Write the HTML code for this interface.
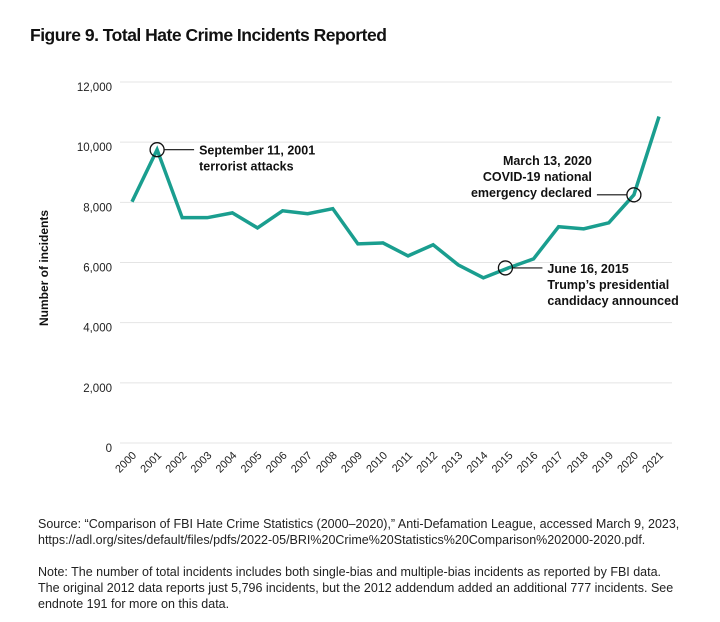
<!DOCTYPE html>
<html><head><meta charset="utf-8">
<style>
body{margin:0;background:#fff;font-family:"Liberation Sans",sans-serif;}
svg text{font-family:"Liberation Sans",sans-serif;}
.note{position:absolute;left:38px;font-size:12.5px;color:#222;line-height:16px;width:670px;}
</style></head>
<body>
<div style="position:relative;width:720px;height:622px;overflow:hidden">
<div style="position:absolute;left:30px;top:25px;font-size:17.5px;font-weight:bold;color:#111;letter-spacing:-0.5px">Figure 9. Total Hate Crime Incidents Reported</div>
<svg id="chart" width="720" height="500" style="position:absolute;left:0;top:0"></svg>
<div class="note" style="top:516px">Source: “Comparison of FBI Hate Crime Statistics (2000–2020),” Anti-Defamation League, accessed March 9, 2023,<br>https://adl.org/sites/default/files/pdfs/2022-05/BRI%20Crime%20Statistics%20Comparison%202000-2020.pdf.</div>
<div class="note" style="top:564px">Note: The number of total incidents includes both single-bias and multiple-bias incidents as reported by FBI data.<br>The original 2012 data reports just 5,796 incidents, but the 2012 addendum added an additional 777 incidents. See<br>endnote 191 for more on this data.</div>
</div>
<script>
const years=[2000,2001,2002,2003,2004,2005,2006,2007,2008,2009,2010,2011,2012,2013,2014,2015,2016,2017,2018,2019,2020,2021];
const incidents=[8020,9750,7490,7490,7650,7150,7720,7620,7790,6620,6650,6220,6590,5920,5490,5820,6120,7190,7120,7320,8250,10850];
const yTicks=[0,2000,4000,6000,8000,10000,12000];
const yTickLabels=["0","2,000","4,000","6,000","8,000","10,000","12,000"];
const annotations=[
 {year:2001,value:9750,lines:["September 11, 2001","terrorist attacks"],side:"right"},
 {year:2015,value:5820,lines:["June 16, 2015","Trump’s presidential","candidacy announced"],side:"right"},
 {year:2020,value:8250,lines:["March 13, 2020","COVID-19 national","emergency declared"],side:"left"}
];
const NS="http://www.w3.org/2000/svg";
const svg=document.getElementById('chart');
const x0=132,x1=659,yBase=443,yTop=82;
function xs(i){return x0+(x1-x0)*i/(years.length-1);}
function ys(v){return yBase-(yBase-yTop)*v/12000;}
function mk(t,a){const e=document.createElementNS(NS,t);for(const k in a)e.setAttribute(k,a[k]);svg.appendChild(e);return e;}
yTicks.forEach((t,i)=>{
 const g=mk('line',{x1:120,x2:672,y1:ys(t),y2:ys(t),stroke:'#e4e4e4','stroke-width':1});
 
 
 const tx=mk('text',{x:112,y:ys(t)+9,'text-anchor':'end','font-size':11.5,fill:'#222'});
 tx.textContent=yTickLabels[i];
 
 
});
years.forEach((yr,i)=>{
 const tx=mk('text',{x:xs(i)+5,y:456,'text-anchor':'end','font-size':11,fill:'#222',transform:`rotate(-45 ${xs(i)+5} 456)`});
 tx.textContent=yr;
 
 
});
const yt=mk('text',{x:0,y:0,'font-size':12,'font-weight':'bold',fill:'#111','text-anchor':'middle',transform:'translate(48 268) rotate(-90)'});
yt.textContent='Number of incidents';


const pts=incidents.map((v,i)=>xs(i)+','+ys(v)).join(' ');
const pl=mk('polyline',{points:pts,fill:'none',stroke:'#1a9e8f','stroke-width':3.5,'stroke-linejoin':'miter'});


annotations.forEach(a=>{
 const i=years.indexOf(a.year);
 let cx=xs(i);
 if(a.year===2015)cx=xs(i)-3;
 const cy=ys(a.value);
 const c=mk('circle',{cx:cx,cy:cy,r:7,fill:'none',stroke:'#111','stroke-width':1.3});
 
 
 const dir=a.side==='right'?1:-1;
 const lx1=cx+dir*7,lx2=cx+dir*37;
 const ln=mk('line',{x1:lx1,x2:lx2,y1:cy,y2:cy,stroke:'#111','stroke-width':1.2});
 
 
 const startY=a.side==='left'?cy-30:cy+5;
 a.lines.forEach((l,k)=>{
  const tx=mk('text',{x:lx2+dir*5,y:startY+k*16,'font-size':12.5,'font-weight':'bold',fill:'#111','text-anchor':a.side==='right'?'start':'end'});
  tx.textContent=l;
  
  
 });
});
</script>
</body></html>
